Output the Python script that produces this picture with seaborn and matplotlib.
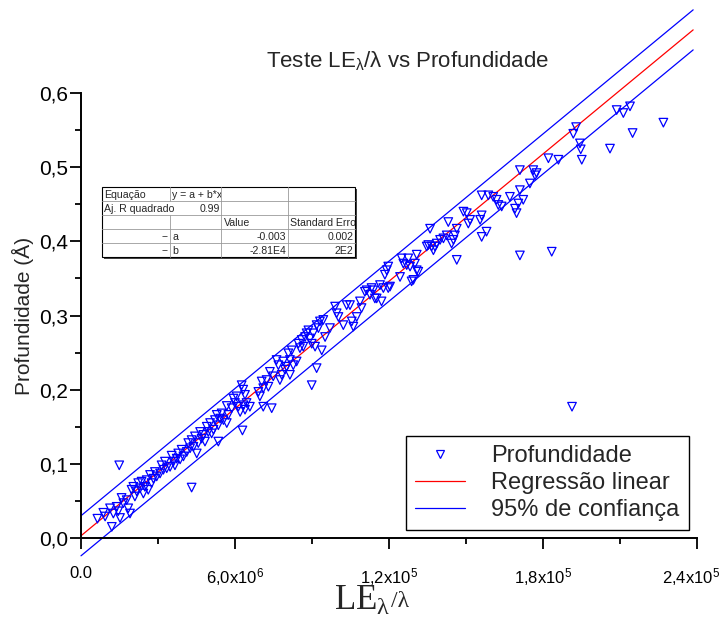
import numpy as np
import pandas as pd
import matplotlib
matplotlib.use("Agg")
import matplotlib.pyplot as plt
import seaborn as sns
from matplotlib.patches import Rectangle
from matplotlib.lines import Line2D
from matplotlib.ticker import MultipleLocator
from matplotlib.transforms import Bbox, ScaledTranslation

# ---------------- data (x in units of 1e-6) ----------------
x_e6 = [
    0.87, 0.64, 0.94, 1.13, 1.26, 1.20, 1.39, 1.45, 1.52, 1.58, 1.65, 1.78, 1.84, 1.91,
    1.97, 2.04, 2.10, 2.17, 2.23, 2.30, 2.36, 2.43, 2.49, 2.56, 2.62, 2.69, 2.75, 2.82,
    2.88, 2.95, 3.08, 3.14, 3.21, 3.27, 3.34, 3.47, 3.53, 3.60, 3.66, 3.73, 3.79, 3.86,
    3.92, 3.99, 4.12, 4.18, 4.25, 4.31, 4.38, 4.44, 4.51, 4.57, 4.64, 4.70, 4.77, 4.83,
    4.90, 4.96, 5.03, 5.09, 5.16, 5.22, 5.29, 5.35, 5.42, 5.48, 5.55, 5.68, 5.74, 5.87,
    6.00, 6.13, 6.20, 6.33, 6.39, 1.49, 4.31, 5.35, 6.29, 5.68,
    5.94, 6.06, 6.26, 6.32, 6.39, 6.45, 6.58, 6.91, 6.97, 7.04, 7.10, 7.10, 7.23, 7.30,
    7.36, 7.43, 7.49, 7.62, 7.69, 7.75, 7.82, 7.88, 7.95, 8.01, 8.08, 8.14, 8.14, 8.21,
    8.27, 8.40, 8.47, 8.53, 8.60, 8.66, 8.73, 8.79, 8.86, 8.92, 8.99, 9.05, 9.12, 9.18,
    9.25, 9.31, 9.38, 9.44, 9.51, 9.18, 8.99, 9.70, 9.90, 9.96, 10.03, 10.22, 10.35,
    10.48, 10.55, 10.61, 10.74,
    10.87, 10.93, 11.06, 11.13, 11.26, 11.32, 11.39, 11.45, 11.52, 11.65, 11.71, 11.78,
    11.84, 11.91, 11.97, 11.97, 12.04, 12.43, 12.49, 12.56, 12.69, 12.75, 12.82, 12.88,
    12.95, 13.01, 13.08, 13.08, 13.14, 13.47, 13.53, 13.60, 13.66, 13.73, 13.79, 13.86,
    13.99, 14.12, 14.25, 14.31, 14.44, 14.51, 14.57, 14.64, 14.64,
    18.21, 17.10, 17.62, 17.75, 17.69, 17.49, 17.10, 17.23, 17.04, 16.91, 16.97, 16.71,
    16.19, 16.26, 16.39, 15.61, 15.87, 16.06, 14.90, 15.03, 15.16, 15.09, 15.61, 15.55,
    15.61, 15.80, 17.10, 18.34,
    22.69, 21.49, 21.39, 21.13, 20.87, 20.61, 19.44, 19.47, 19.51, 19.29, 19.18, 18.60,
    19.13,
]
profundidade = [
    0.034, 0.026, 0.029, 0.040, 0.033, 0.015, 0.042, 0.036, 0.027, 0.054, 0.047, 0.051, 0.040, 0.033,
    0.065, 0.069, 0.056, 0.063, 0.074, 0.067, 0.076, 0.060, 0.069, 0.078, 0.065, 0.085, 0.074, 0.080,
    0.089, 0.083, 0.087, 0.098, 0.092, 0.103, 0.094, 0.096, 0.111, 0.103, 0.098, 0.107, 0.114, 0.106,
    0.119, 0.110, 0.116, 0.128, 0.121, 0.132, 0.123, 0.137, 0.114, 0.128, 0.143, 0.134, 0.139, 0.130,
    0.150, 0.143, 0.155, 0.141, 0.146, 0.159, 0.166, 0.152, 0.161, 0.168, 0.159, 0.155, 0.166, 0.175,
    0.182, 0.177, 0.170, 0.179, 0.173, 0.098, 0.068, 0.130, 0.145, 0.178,
    0.188, 0.191, 0.206, 0.200, 0.193, 0.182, 0.177, 0.197, 0.191, 0.211, 0.202, 0.177, 0.213, 0.204,
    0.224, 0.175, 0.218, 0.240, 0.233, 0.213, 0.220, 0.238, 0.227, 0.231, 0.249, 0.240, 0.220, 0.253,
    0.233, 0.238, 0.262, 0.256, 0.267, 0.258, 0.271, 0.276, 0.280, 0.269, 0.262, 0.276, 0.258, 0.287,
    0.283, 0.292, 0.253, 0.294, 0.271, 0.229, 0.206, 0.283, 0.312, 0.303, 0.298, 0.287, 0.314,
    0.314, 0.292, 0.285, 0.298,
    0.319, 0.310, 0.332, 0.334, 0.328, 0.337, 0.334, 0.323, 0.323, 0.341, 0.319, 0.337,
    0.355, 0.361, 0.366, 0.337, 0.339, 0.352, 0.377, 0.370, 0.368, 0.377, 0.366, 0.346,
    0.348, 0.370, 0.382, 0.361, 0.359, 0.393, 0.395, 0.417, 0.393, 0.388, 0.393, 0.397,
    0.402, 0.404, 0.408, 0.426, 0.397, 0.402, 0.408, 0.417, 0.375,
    0.512, 0.496, 0.496, 0.492, 0.489, 0.478, 0.469, 0.456, 0.451, 0.444, 0.438, 0.460,
    0.456, 0.449, 0.447, 0.462, 0.462, 0.460, 0.440, 0.438, 0.429, 0.424, 0.435, 0.429,
    0.406, 0.413, 0.381, 0.386,
    0.560, 0.546, 0.582, 0.573, 0.577, 0.525, 0.532, 0.524, 0.510, 0.554, 0.545, 0.510,
    0.177,
]

# fitted line and 95% band
fit_intercept = 0.003
fit_slope = 2.86e4
band_halfwidth = 0.027
fit_x_range = [0.0, 2.385e-5]

xticks = [0.0, 6.0e-6, 1.2e-5, 1.8e-5, 2.4e-5]
xtick_labels = ["0.0", r"$\mathregular{6{,}0x10^{6}}$", r"$\mathregular{1{,}2x10^{5}}$",
                r"$\mathregular{1{,}8x10^{5}}$", r"$\mathregular{2{,}4x10^{5}}$"]
yticks = [0.0, 0.1, 0.2, 0.3, 0.4, 0.5, 0.6]
ytick_labels = ["0,0", "0,1", "0,2", "0,3", "0,4", "0,5", "0,6"]

table_rows = [
    ["Equação", "y = a + b*x", "", ""],
    ["Aj. R quadrado", "0.99", "", ""],
    ["", "", "Value", "Standard Error"],
    ["--", "a", "-0.003", "0.002"],
    ["--", "b", "-2.81E4", "2E2"],
]

legend_labels = ["Profundidade", "Regressão linear", "95% de confiança"]

# ---------------- style ----------------
sns.set_theme(style="ticks")
plt.rcParams["font.family"] = ["Liberation Sans", "DejaVu Sans"]
plt.rcParams["mathtext.fontset"] = "custom"
plt.rcParams["mathtext.rm"] = "Liberation Sans"
plt.rcParams["axes.edgecolor"] = "black"
plt.rcParams["xtick.color"] = "black"
plt.rcParams["ytick.color"] = "black"

W, H = 720, 622
fig = plt.figure(figsize=(7.2, 6.22), dpi=100)
fig.patch.set_facecolor("white")
ax = fig.add_axes([81 / W, 1 - 538 / H, 616 / W, 445 / H])
ax.set_facecolor("none")

x = np.array(x_e6) * 1e-6
y = np.array(profundidade)
df = pd.DataFrame({"x": x, "y": y})

xl = np.array(fit_x_range)
yfit = fit_intercept + fit_slope * xl
lines = pd.DataFrame({"x": xl, "fit": yfit, "up": yfit + band_halfwidth, "lo": yfit - band_halfwidth})

sns.lineplot(data=lines, x="x", y="up", color="#0000ff", lw=0.9, ax=ax, clip_on=False, legend=False)
sns.lineplot(data=lines, x="x", y="lo", color="#0000ff", lw=0.9, ax=ax, clip_on=False, legend=False)
sns.lineplot(data=lines, x="x", y="fit", color="#ff0000", lw=0.9, ax=ax, clip_on=False, legend=False)
sns.scatterplot(data=df, x="x", y="y", marker="v", s=38, facecolors="none",
                edgecolors="#0000ff", linewidths=0.9, ax=ax, legend=False, zorder=3)

ax.set_xlim(0, 2.4e-5)
ax.set_ylim(0, 0.6)
ax.set_xticks(xticks)
ax.set_xticklabels(xtick_labels, fontsize=12)
ax.set_yticks(yticks)
ax.set_yticklabels(ytick_labels, fontsize=15)
ax.xaxis.set_minor_locator(MultipleLocator(3e-6))
ax.yaxis.set_minor_locator(MultipleLocator(0.05))
ax.tick_params(which="major", direction="out", length=8, width=1.3, pad=12, axis="x")
ax.tick_params(which="major", direction="out", length=8, width=1.3, pad=1, axis="y")
ax.tick_params(which="minor", direction="out", length=4, width=1.3)
for s in ["top", "right"]:
    ax.spines[s].set_visible(False)
for s in ["left", "bottom"]:
    ax.spines[s].set_linewidth(1.4)
# keep the last x tick label inside the canvas
last = ax.get_xticklabels()[-1]
last.set_transform(last.get_transform() + ScaledTranslation(-6 / 100, 0, fig.dpi_scale_trans))
ax.set_xlabel("")
ax.set_ylabel("Profundidade (Å)", fontsize=15, labelpad=4)

# title
fig.text(407 / W, 1 - 61 / H, r"Teste LE$\mathregular{_{λ}}$/λ vs Profundidade",
         ha="center", va="center", fontsize=16)

# x label in serif: "LE" with subscript lambda, then smaller "/λ"
t1 = fig.text(334 / W, 1 - 610 / H, r"LE$\mathregular{_{λ}}$", ha="left", va="baseline",
              fontsize=25, family=["Liberation Serif", "DejaVu Serif"])
fig.canvas.draw()
bb = t1.get_window_extent()
fig.text(bb.x1 / W + 1 / W, 1 - 607 / H, "/λ", ha="left", va="baseline",
         fontsize=17, family=["Liberation Serif", "DejaVu Serif"])

# legend
handles = [
    Line2D([], [], marker="v", ls="none", mfc="none", mec="#0000ff", ms=5.5, mew=0.9),
    Line2D([], [], color="#ff0000", lw=0.9),
    Line2D([], [], color="#0000ff", lw=0.9),
]
leg = fig.legend(handles, legend_labels, loc="upper left",
                 bbox_to_anchor=(406 / W, 1 - 436 / H), bbox_transform=fig.transFigure,
                 fontsize=17, frameon=True, fancybox=False, framealpha=1,
                 edgecolor="black", borderaxespad=0, handlelength=2.1,
                 handletextpad=1.1, labelspacing=0.2, borderpad=0.4)
leg.get_frame().set_linewidth(1.0)

# stats table overlay (pixel coordinates)
tax = fig.add_axes([0, 0, 1, 1], zorder=5)
tax.set_xlim(0, W)
tax.set_ylim(H, 0)
tax.axis("off")
tax.patch.set_alpha(0)
cols = [101.5, 170, 221, 288, 355]
rows = [187, 201, 215, 229, 243, 257]
tax.add_patch(Rectangle((cols[0] + 2, rows[0] + 2), cols[-1] - cols[0], rows[-1] - rows[0],
                        facecolor="#444444", edgecolor="none"))
tax.add_patch(Rectangle((cols[0], rows[0]), cols[-1] - cols[0], rows[-1] - rows[0],
                        facecolor="white", edgecolor="black", lw=0.8))
grid_c = "#9a9a9a"
for r in rows[1:-1]:
    tax.plot([cols[0], cols[-1]], [r, r], color=grid_c, lw=0.6)
for ci, c in enumerate(cols[1:-1], start=1):
    for ri in range(5):
        if ci == 1 and ri == 1:
            continue
        tax.plot([c, c], [rows[ri], rows[ri + 1]], color=grid_c, lw=0.6)

for ri, row in enumerate(table_rows):
    yc = (rows[ri] + rows[ri + 1]) / 2 + 0.5
    for ci, txt in enumerate(row):
        if not txt:
            continue
        right_align = (ci == 0 and txt == "--") or (ci == 1 and txt == "0.99") or \
                      (ci >= 2 and ri >= 3)
        if right_align:
            xx, ha = cols[ci + 1] - 1.5, "right"
        else:
            xx, ha = cols[ci] + 2.5, "left"
        t = tax.text(xx, yc, txt, ha=ha, va="center", fontsize=7.6)
        if ci >= 1:
            x0d = tax.transData.transform((cols[ci], 0))[0]
            x1d = tax.transData.transform((cols[ci + 1] - 0.5, 0))[0]
            t.set_clip_box(Bbox.from_extents(x0d, 0, x1d, H))
            t.set_clip_on(True)

fig.savefig("out.png", dpi=100, facecolor="white")
